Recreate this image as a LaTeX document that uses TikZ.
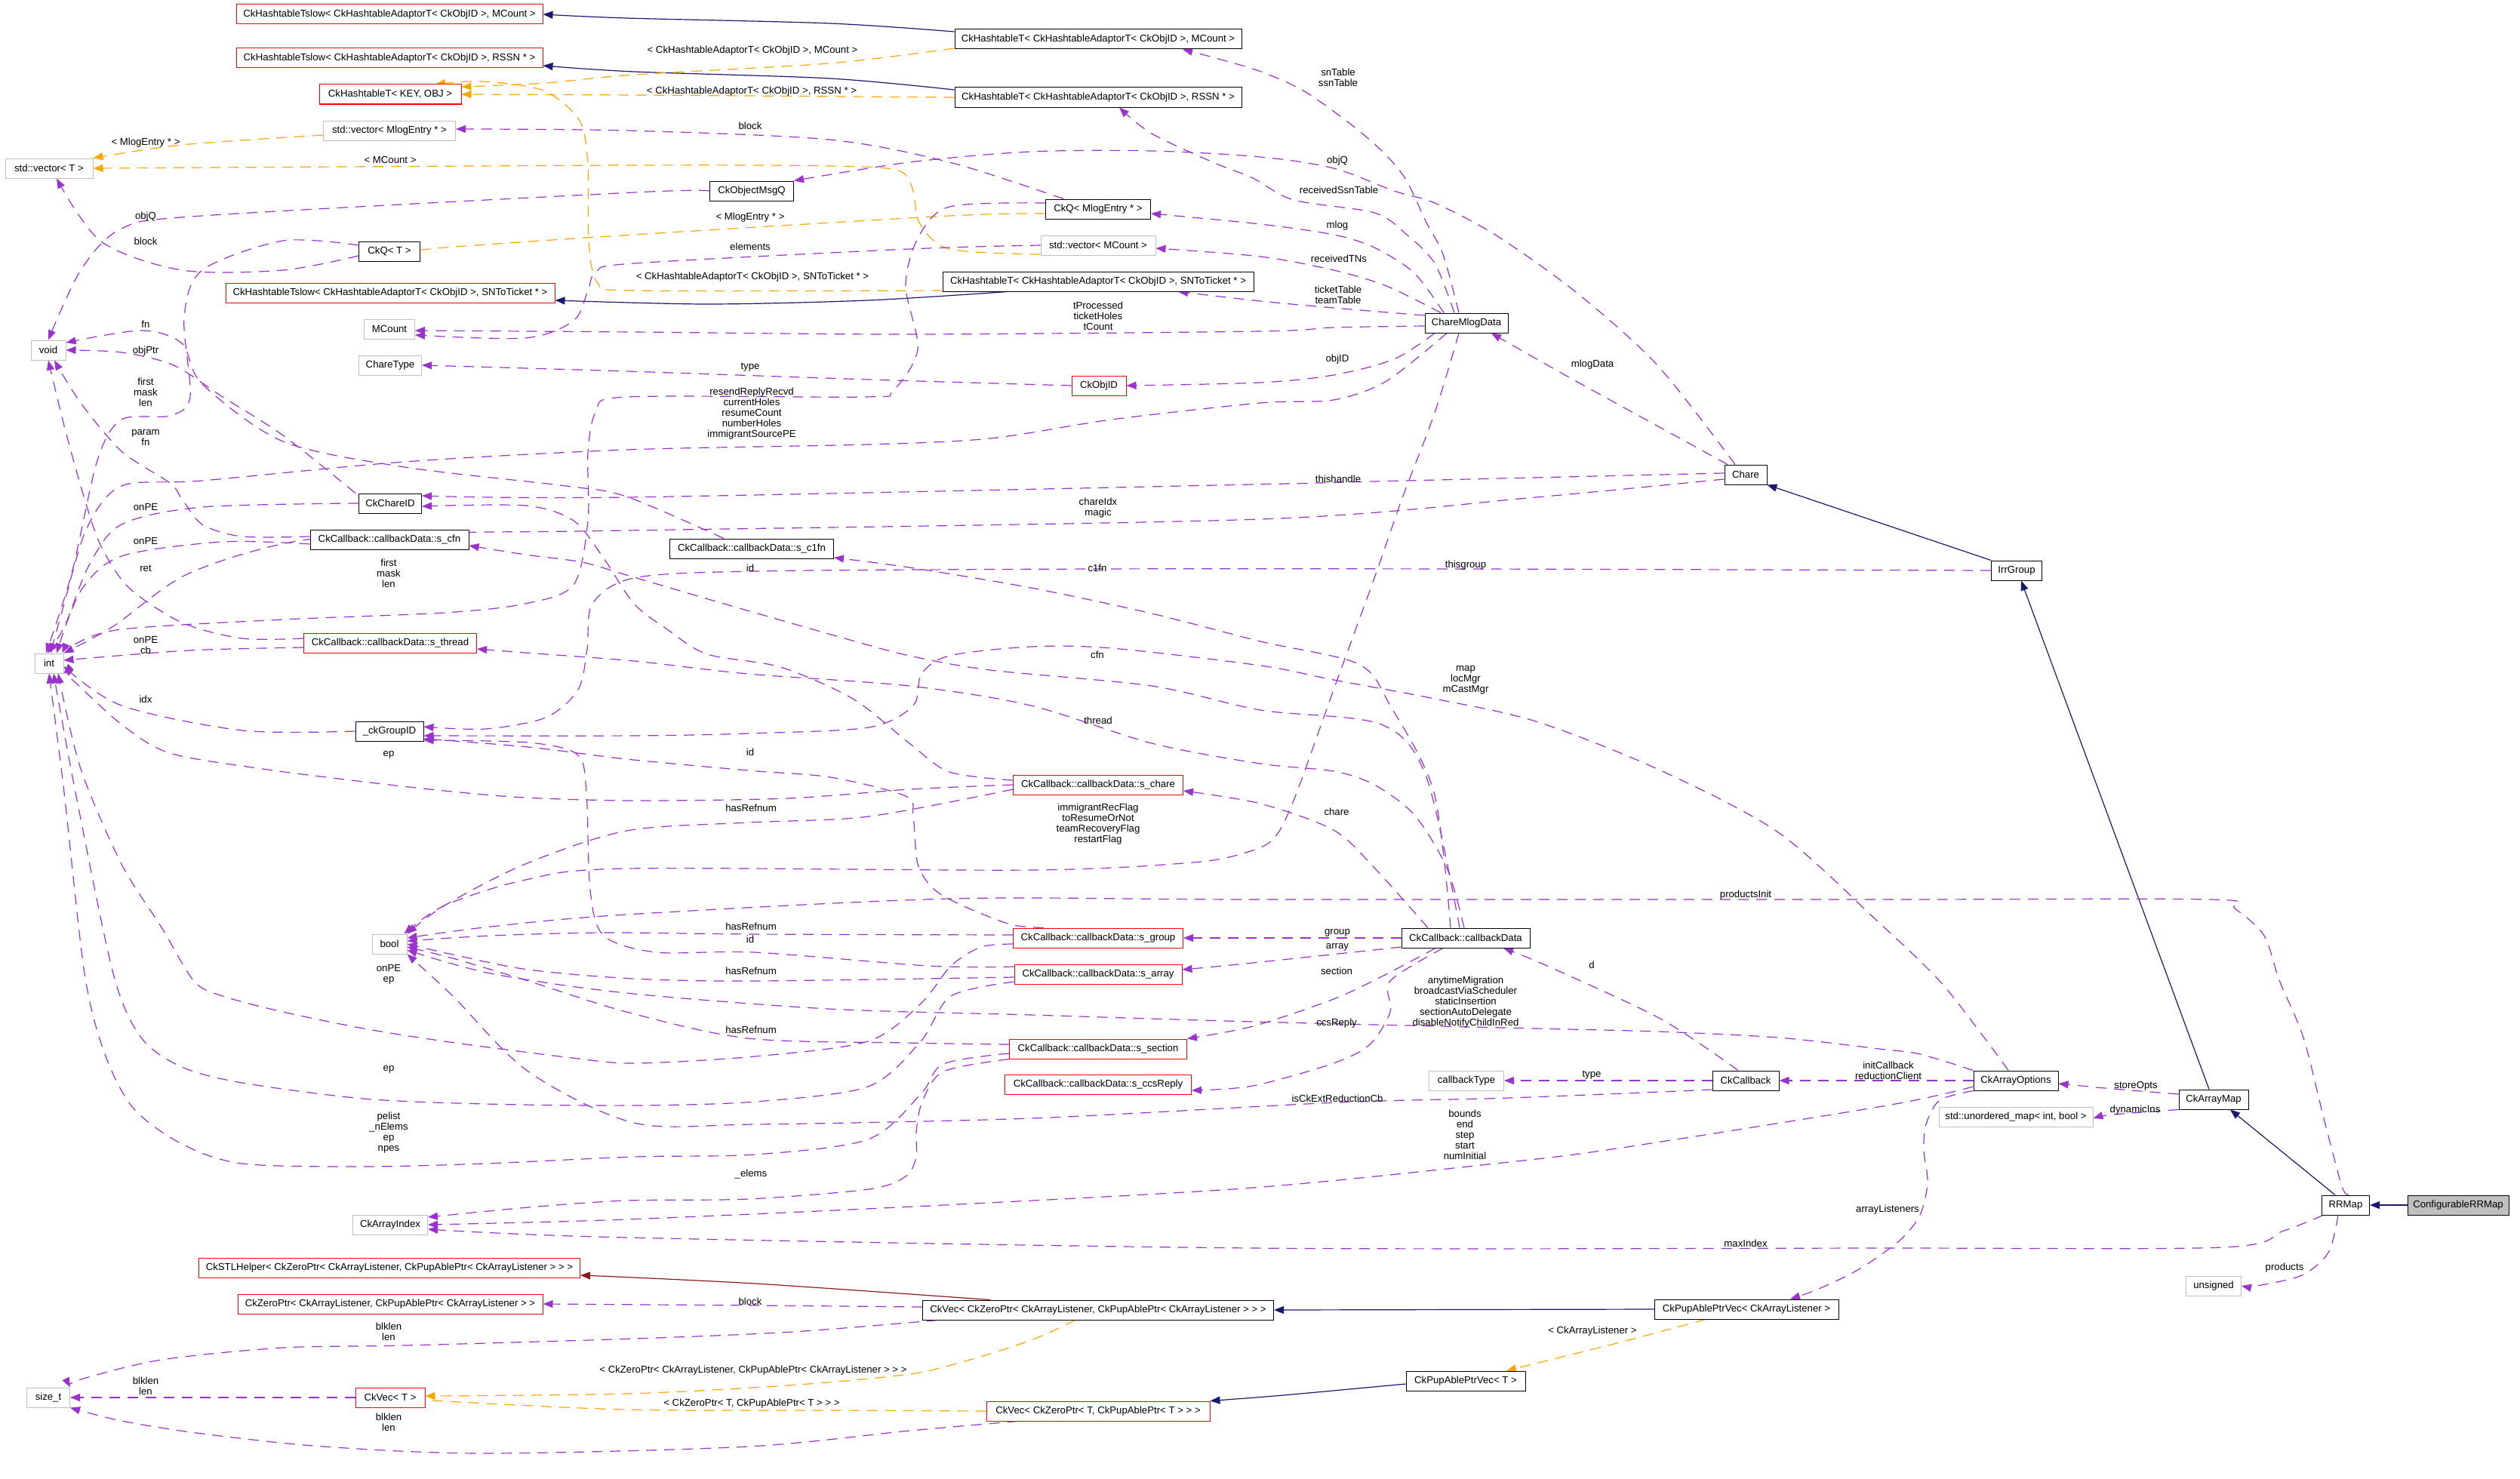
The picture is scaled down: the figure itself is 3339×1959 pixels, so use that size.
\documentclass[tikz,border=0pt]{standalone}
\usepackage{fontspec}
\setmainfont{Liberation Sans}
\usetikzlibrary{arrows.meta}
\pgfdeclarelayer{background}
\pgfsetlayers{background,main}
\definecolor{dpurple}{HTML}{9A32CD}
\definecolor{dorange}{HTML}{FFA500}
\definecolor{dnavy}{HTML}{191970}
\definecolor{dfire}{HTML}{8B1A1A}
\definecolor{boxgrey}{HTML}{BFBFBF}
\newcommand{\dgfont}{\fontsize{6.6pt}{7pt}\selectfont}
\tikzset{
  box/.style={draw=black, line width=0.5pt, minimum height=13pt, inner sep=1pt, font=\dgfont, fill=white},
  rbox/.style={box, draw=red},
  gbox/.style={box, draw=boxgrey},
  lbl/.style={font=\dgfont, align=center, inner sep=0pt},
  tip/.style={-{Triangle[length=6.5pt,width=5pt]}},
  mem/.style={draw=dpurple, line width=0.6pt, dash pattern=on 7pt off 5pt, tip},
  tmpl/.style={mem, draw=dorange},
  inh/.style={draw=dnavy, line width=0.6pt, tip},
  priv/.style={inh, draw=dfire},
}
\begin{document}
\begin{tikzpicture}[x=0.5pt, y=-0.5pt]
\useasboundingbox (0,0) rectangle (3339,1959);
% ---------------- nodes ----------------
\node[rbox, minimum width=203pt] (tsm) at (516,19) {CkHashtableTslow< CkHashtableAdaptorT< CkObjID >, MCount >};
\node[rbox, minimum width=203pt] (tsr) at (516,77) {CkHashtableTslow< CkHashtableAdaptorT< CkObjID >, RSSN * >};
\node[rbox, minimum width=94pt] (hkey) at (517,125) {CkHashtableT< KEY, OBJ >};
\node[gbox, minimum width=87.5pt] (vMlog) at (516,173) {std::vector< MlogEntry * >};
\node[gbox, minimum width=58pt] (vT) at (65,223) {std::vector< T >};
\node[box, minimum width=55.5pt] (cmq) at (996,253) {CkObjectMsgQ};
\node[box, minimum width=69.5pt] (qMlog) at (1455,277) {CkQ< MlogEntry * >};
\node[gbox, minimum width=76pt] (vMC) at (1455,325) {std::vector< MCount >};
\node[box, minimum width=40.5pt] (qT) at (516,333) {CkQ< T >};
\node[rbox, minimum width=218pt] (tss) at (517,388) {CkHashtableTslow< CkHashtableAdaptorT< CkObjID >, SNToTicket * >};
\node[box, minimum width=206pt] (ht) at (1455,373) {CkHashtableT< CkHashtableAdaptorT< CkObjID >, SNToTicket * >};
\node[box, minimum width=190pt] (hm) at (1455,52) {CkHashtableT< CkHashtableAdaptorT< CkObjID >, MCount >};
\node[box, minimum width=190pt] (hr) at (1455,129) {CkHashtableT< CkHashtableAdaptorT< CkObjID >, RSSN * >};
\node[gbox, minimum width=33.5pt] (mcount) at (516,436) {MCount};
\node[gbox, minimum width=41.5pt] (chtype) at (517,484) {ChareType};
\node[gbox, minimum width=23pt] (void) at (64,464) {void};
\node[rbox, minimum width=36pt] (objid) at (1456,511) {CkObjID};
\node[box, minimum width=55pt] (cmd) at (1943,428) {ChareMlogData};
\node[box, minimum width=28pt] (chare) at (2313,629) {Chare};
\node[box, minimum width=33.5pt] (irr) at (2672,756) {IrrGroup};
\node[box, minimum width=41.5pt] (chid) at (517,667) {CkChareID};
\node[box, minimum width=105pt] (scfn) at (516,715) {CkCallback::callbackData::s\_cfn};
\node[box, minimum width=108.5pt] (sc1fn) at (996,727) {CkCallback::callbackData::s\_c1fn};
\node[rbox, minimum width=114.5pt] (sthr) at (517,852) {CkCallback::callbackData::s\_thread};
\node[gbox, minimum width=19pt] (int) at (65,879) {int};
\node[box, minimum width=45pt] (gid) at (516,969) {\_ckGroupID};
\node[rbox, minimum width=112.5pt] (schare) at (1455,1040) {CkCallback::callbackData::s\_chare};
\node[gbox, minimum width=23pt] (bool) at (516,1251) {bool};
\node[rbox, minimum width=112.5pt] (sgroup) at (1455,1243) {CkCallback::callbackData::s\_group};
\node[box, minimum width=85pt] (cbd) at (1942,1243) {CkCallback::callbackData};
\node[rbox, minimum width=111pt] (sarray) at (1455,1291) {CkCallback::callbackData::s\_array};
\node[rbox, minimum width=117.5pt] (ssec) at (1455,1390) {CkCallback::callbackData::s\_section};
\node[rbox, minimum width=123.5pt] (sccs) at (1455,1437) {CkCallback::callbackData::s\_ccsReply};
\node[gbox, minimum width=49.5pt] (cbtype) at (1943,1432) {callbackType};
\node[box, minimum width=44pt] (cb) at (2313,1432) {CkCallback};
\node[box, minimum width=56pt] (aopt) at (2671,1432) {CkArrayOptions};
\node[box, minimum width=46pt] (amap) at (2933,1457) {CkArrayMap};
\node[gbox, minimum width=102pt] (umap) at (2671,1480) {std::unordered\_map< int, bool >};
\node[box, minimum width=31.5pt] (rrmap) at (3108,1597) {RRMap};
\node[box, minimum width=67pt, fill=boxgrey] (crr) at (3257,1597) {ConfigurableRRMap};
\node[gbox, minimum width=36.5pt] (unsigned) at (2933,1704) {unsigned};
\node[gbox, minimum width=49.5pt] (aidx) at (517,1623) {CkArrayIndex};
\node[rbox, minimum width=252.5pt] (stl) at (516,1680) {CkSTLHelper< CkZeroPtr< CkArrayListener, CkPupAblePtr< CkArrayListener > > >};
\node[rbox, minimum width=202pt] (zptr) at (517,1728) {CkZeroPtr< CkArrayListener, CkPupAblePtr< CkArrayListener > >};
\node[box, minimum width=232.5pt] (vecAL) at (1455,1736) {CkVec< CkZeroPtr< CkArrayListener, CkPupAblePtr< CkArrayListener > > >};
\node[box, minimum width=122pt] (pvAL) at (2314,1735) {CkPupAblePtrVec< CkArrayListener >};
\node[gbox, minimum width=28.5pt] (sizet) at (64,1852) {size\_t};
\node[rbox, minimum width=46pt] (vecT) at (517,1852) {CkVec< T >};
\node[box, minimum width=79pt] (pvT) at (1942,1830) {CkPupAblePtrVec< T >};
\node[rbox, minimum width=148pt] (vecZT) at (1455,1870) {CkVec< CkZeroPtr< T, CkPupAblePtr< T > > >};
% ---------------- labels ----------------
\node[lbl] (L1) at (997,67) {< CkHashtableAdaptorT< CkObjID >, MCount >};
\node[lbl] (L2) at (996,121) {< CkHashtableAdaptorT< CkObjID >, RSSN * >};
\node[lbl] (L3) at (997,367) {< CkHashtableAdaptorT< CkObjID >, SNToTicket * >};
\node[lbl] (L4) at (193,189) {< MlogEntry * >};
\node[lbl] (L5) at (517,212) {< MCount >};
\node[lbl] (L6) at (994,288) {< MlogEntry * >};
\node[lbl] (L7) at (994,167) {block};
\node[lbl] (L8) at (193,287) {objQ};
\node[lbl] (L9) at (193,320) {block};
\node[lbl] (L10) at (994,327) {elements};
\node[lbl] (L11) at (193,430) {fn};
\node[lbl] (L12) at (193,465) {objPtr};
\node[lbl] (L13) at (193,520) {first\\mask\\len};
\node[lbl] (L14) at (193,580) {param\\fn};
\node[lbl] (L15) at (994,487) {type};
\node[lbl] (L16) at (996,548) {resendReplyRecvd\\currentHoles\\resumeCount\\numberHoles\\immigrantSourcePE};
\node[lbl] (L17) at (1455,419) {tProcessed\\ticketHoles\\tCount};
\node[lbl] (L18) at (1773,103) {snTable\\ssnTable};
\node[lbl] (L19) at (1772,213) {objQ};
\node[lbl] (L20) at (1774,252) {receivedSsnTable};
\node[lbl] (L21) at (1772,299) {mlog};
\node[lbl] (L22) at (1774,343) {receivedTNs};
\node[lbl] (L23) at (1773,391) {ticketTable\\teamTable};
\node[lbl] (L24) at (1772,476) {objID};
\node[lbl] (L25) at (2110,483) {mlogData};
\node[lbl] (L26) at (1773,635) {thishandle};
\node[lbl] (L27) at (193,672) {onPE};
\node[lbl] (L28) at (1455,673) {chareIdx\\magic};
\node[lbl] (L29) at (193,717) {onPE};
\node[lbl] (L30) at (515,760) {first\\mask\\len};
\node[lbl] (L31) at (994,753) {id};
\node[lbl] (L32) at (193,753) {ret};
\node[lbl] (L33) at (1454,753) {c1fn};
\node[lbl] (L34) at (1942,749) {thisgroup};
\node[lbl] (L35) at (193,855) {onPE\\cb};
\node[lbl] (L36) at (1454,868) {cfn};
\node[lbl] (L37) at (1942,901) {map\\locMgr\\mCastMgr};
\node[lbl] (L38) at (193,927) {idx};
\node[lbl] (L39) at (1455,955) {thread};
\node[lbl] (L40) at (994,997) {id};
\node[lbl] (L41) at (515,1000) {ep};
\node[lbl] (L42) at (995,1071) {hasRefnum};
\node[lbl] (L43) at (1455,1092) {immigrantRecFlag\\toResumeOrNot\\teamRecoveryFlag\\restartFlag};
\node[lbl] (L44) at (1771,1076) {chare};
\node[lbl] (L45) at (2313,1186) {productsInit};
\node[lbl] (L46) at (995,1228) {hasRefnum};
\node[lbl] (L47) at (994,1245) {id};
\node[lbl] (L48) at (1772,1236) {group};
\node[lbl] (L49) at (1772,1255) {array};
\node[lbl] (L50) at (515,1291) {onPE\\ep};
\node[lbl] (L51) at (995,1287) {hasRefnum};
\node[lbl] (L52) at (1771,1287) {section};
\node[lbl] (L53) at (2109,1279) {d};
\node[lbl] (L54) at (1942,1328) {anytimeMigration\\broadcastViaScheduler\\staticInsertion\\sectionAutoDelegate\\disableNotifyChildInRed};
\node[lbl] (L55) at (995,1365) {hasRefnum};
\node[lbl] (L56) at (1771,1356) {ccsReply};
\node[lbl] (L57) at (515,1417) {ep};
\node[lbl] (L58) at (2109,1425) {type};
\node[lbl] (L59) at (2502,1419) {initCallback\\reductionClient};
\node[lbl] (L60) at (1772,1456) {isCkExtReductionCb};
\node[lbl] (L61) at (2830,1439) {storeOpts};
\node[lbl] (L62) at (2829,1471) {dynamicIns};
\node[lbl] (L63) at (515,1501) {pelist\\\_nElems\\ep\\npes};
\node[lbl] (L64) at (1941,1504) {bounds\\end\\step\\start\\numInitial};
\node[lbl] (L65) at (995,1556) {\_elems};
\node[lbl] (L66) at (2501,1603) {arrayListeners};
\node[lbl] (L67) at (2313,1648) {maxIndex};
\node[lbl] (L68) at (3027,1680) {products};
\node[lbl] (L69) at (994,1725) {block};
\node[lbl] (L70) at (515,1765) {blklen\\len};
\node[lbl] (L71) at (998,1816) {< CkZeroPtr< CkArrayListener, CkPupAblePtr< CkArrayListener > > >};
\node[lbl] (L72) at (2110,1764) {< CkArrayListener >};
\node[lbl] (L73) at (193,1837) {blklen\\len};
\node[lbl] (L74) at (996,1860) {< CkZeroPtr< T, CkPupAblePtr< T > > >};
\node[lbl] (L75) at (515,1885) {blklen\\len};
% ---------------- edges ----------------
\begin{pgfonlayer}{background}
\fill[white] (0,0) rectangle (3339,1959);
% inheritance
\draw[inh] plot[smooth] coordinates {([yshift=5pt]hm.west) (1100,31) (830,24) (tsm.east)};
\draw[inh] plot[smooth] coordinates {([yshift=5pt]hr.west) (1100,104) (840,95) ([yshift=-5pt]tsr.east)};
\draw[inh] plot[smooth] coordinates {([xshift=-60pt]ht.south) (1150,398) (937,403) ([yshift=-5pt]tss.east)};
\draw[inh] (irr.north west) -- (chare.south east);
\draw[inh] ([xshift=-3pt]amap.north) -- ([xshift=3pt]irr.south);
\draw[inh] ([xshift=-7pt]rrmap.north) -- ([xshift=11pt]amap.south);
\draw[inh] (crr.west) -- (rrmap.east);
\draw[inh] (pvAL.west) -- (vecAL.east);
\draw[inh] plot[smooth] coordinates {([yshift=-2pt]pvT.west) (1700,1849) (vecZT.north east)};
\draw[priv] plot[smooth] coordinates {([xshift=-71.5pt]vecAL.north) (1017,1702) (840,1693) ([yshift=-5pt]stl.east)};
% templates
\draw[tmpl] plot[smooth] coordinates {([yshift=-6pt]hm.west) (1098,84) (840,99) (723,110) ([yshift=5pt]hkey.east)};
\draw[tmpl] plot[smooth] coordinates {(hr.west) (840,126) (hkey.east)};
\draw[tmpl] plot[smooth] coordinates {([yshift=-6pt]ht.west) (840,385) (792,375) (780,320) (779,220) (768,160) (720,120) (640,108) ([xshift=30pt]hkey.north)};
\draw[tmpl] plot[smooth] coordinates {([yshift=-3pt]vMlog.west) (241,192) (vT.north east)};
\draw[tmpl] plot[smooth] coordinates {([yshift=-6pt]vMC.west) (1258,330) (1218,295) (1210,253) (1190,226) (1100,220) (830,219) (vT.east)};
\draw[tmpl] plot[smooth] coordinates {([yshift=-3pt]qMlog.west) (1258,286) (840,311) (589,328) (qT.east)};
\draw[tmpl] plot[smooth] coordinates {([xshift=-15pt]vecAL.south) (1366,1776) (1285,1802) (1205,1821) (1044,1836) (830,1847) ([yshift=1pt]vecT.east)};
\draw[tmpl] plot[smooth] coordinates {(vecZT.west) (1100,1869) (830,1868) (589,1857) ([yshift=-1pt]vecT.east)};
\draw[tmpl] plot[smooth] coordinates {([xshift=-27pt]pvAL.south) (2150,1778) ([xshift=27pt]pvT.north)};
% members from ChareMlogData
\draw[mem] plot[smooth] coordinates {([xshift=-5pt]cmd.north) (1912,337) (1890,295) (1864,240) (1837,206) (1794,168) (1730,122) (1671,95) (1607,76) ([xshift=56pt]hm.south)};
\draw[mem] plot[smooth] coordinates {([xshift=-8pt]cmd.north) (1901,349) (1864,311) (1821,282) (1714,265) (1660,236) (1607,215) (1526,177) ([xshift=14pt]hr.south)};
\draw[mem] plot[smooth] coordinates {([xshift=-15pt]cmd.north) (1874,362) (1821,328) (1767,311) (1670,297) ([yshift=-3pt]qMlog.east)};
\draw[mem] plot[smooth] coordinates {([xshift=-17pt]cmd.north) (1837,379) (1767,358) (1670,340) ([yshift=-2pt]vMC.east)};
\draw[mem] plot[smooth] coordinates {([yshift=5pt]cmd.west) (1767,408) (1670,399) ([xshift=53pt]ht.south)};
\draw[mem] plot[smooth] coordinates {([yshift=-2pt]cmd.west) (1767,434) (1670,439) (1205,443) (840,440) ([yshift=-1pt]mcount.east)};
\draw[mem] plot[smooth] coordinates {([xshift=-21pt]cmd.south) (1847,476) (1767,497) (1670,507) (objid.east)};
\draw[mem] plot[smooth] coordinates {([xshift=-13pt]cmd.south) (1837,505) (1767,530) (1670,534) (1473,556) (1312,581) (1151,589) (830,596) (536,612) (268,637) (161,644) (115,700) (85,800) ([xshift=1pt]int.north)};
\draw[mem] plot[smooth] coordinates {([xshift=-5pt]cmd.south) (1901,547) (1858,660) (1821,766) (1767,914) (1714,1061) (1687,1112) (1650,1130) (1580,1143) (1366,1153) (830,1151) (696,1166) (589,1200) ([xshift=-2pt]bool.north east)};
% members from Chare
\draw[mem] plot[smooth] coordinates {([xshift=-7pt]chare.north) (2196,484) (2088,387) (1981,311) (1901,269) (1847,253) (1767,223) (1670,208) (1526,200) (1366,201) (1205,215) (cmq.north east)};
\draw[mem] plot[smooth] coordinates {([xshift=-12pt]chare.north) (2088,505) ([xshift=16.5pt]cmd.south)};
\draw[mem] plot[smooth] coordinates {([yshift=1pt]chare.west) (1821,638) (1660,642) (830,659) ([yshift=5pt]chid.east)};
\draw[mem] plot[smooth] coordinates {([yshift=-3pt]chare.west) (2024,660) (1670,688) (830,703) (600,706) (400,716) (250,760) (150,830) (int.north east)};
% IrrGroup
\draw[mem] plot[smooth] coordinates {(irr.west) (1942,754) (1454,754) (1000,757) (840,766) (785,800) (778,860) (766,914) (723,951) (643,966) ([yshift=3pt]gid.east)};
% CkQ / vectors / misc upper-left
\draw[mem] plot[smooth] coordinates {([yshift=4pt]qMlog.west) (1258,274) (1216,316) (1200,379) (1216,463) (1183,518) (1146,526) (830,526) (790,545) (779,600) (779,690) (760,775) (696,800) (589,812) (375,821) (161,834) (96,855) ([xshift=-1pt]int.north east)};
\draw[mem] plot[smooth] coordinates {([xshift=-2pt]chid.north west) (375,577) (295,526) (230,484) (161,467) (void.east)};
\draw[mem] plot[smooth] coordinates {(chid.west) (268,672) (161,695) (118,749) (86,829) ([xshift=-1pt]int.north)};
\draw[mem] plot[smooth] coordinates {([xshift=-18.5pt]sc1fn.north) (830,658) (750,644) (536,619) (375,585) (268,509) (241,455) (187,438) ([yshift=5pt]void.east)};
\draw[mem] plot[smooth] coordinates {([yshift=2pt]scfn.west) (321,711) (268,695) (241,661) (225,640) (161,598) (107,534) ([xshift=4pt]void.south)};
\draw[mem] plot[smooth] coordinates {([yshift=-3pt]scfn.west) (295,718) (161,737) (107,783) ([xshift=5pt]int.north)};
\draw[mem] plot[smooth] coordinates {([yshift=3pt]sthr.west) (321,846) (241,825) (171,779) (134,724) (112,661) (86,568) (void.south)};
\draw[mem] plot[smooth] coordinates {([yshift=-3pt]sthr.west) (250,862) ([yshift=2pt]int.east)};
\draw[mem] plot[smooth] coordinates {(gid.west) (321,968) (161,935) ([yshift=-2pt]int.east)};
\draw[mem] plot[smooth] coordinates {([yshift=-3pt]qT.west) (375,358) (241,358) (134,320) ([xshift=5pt]vT.south)};
\draw[mem] plot[smooth] coordinates {([yshift=4pt]qT.west) (375,319) (268,358) (244,421) (252,526) (225,551) (161,556) (129,610) (95,760) ([xshift=-2pt]int.north)};
\draw[mem] plot[smooth] coordinates {(cmq.west) (840,255) (268,286) (161,303) (107,358) (void.north)};
\draw[mem] plot[smooth] coordinates {([xshift=-23pt]qMlog.north) (1258,215) (1098,185) (830,173) ([yshift=1pt]vMlog.east)};
\draw[mem] plot[smooth] coordinates {(vMC.west) (1205,330) (840,349) (790,360) (779,385) (760,425) (696,448) ([yshift=-4pt]mcount.east)};
\draw[mem] plot[smooth] coordinates {(objid.west) (1151,503) (830,492) (chtype.east)};
% callbackData members
\draw[mem] plot[smooth] coordinates {([xshift=-10pt]cbd.north) (1900,1050) (1842,935) (1800,880) (1670,850) (1526,813) (1366,779) (1205,752) ([yshift=-6pt]sc1fn.east)};
\draw[mem] plot[smooth] coordinates {([xshift=-4pt]cbd.north) (1890,1030) (1830,960) (1670,941) (1526,909) (1312,888) (1205,869) (1119,846) (959,800) (830,762) (771,745) (696,735) ([yshift=-4pt]scfn.east)};
\draw[mem] plot[smooth] coordinates {([xshift=-1pt]cbd.north) (1917,1150) (1874,1080) (1821,1040) (1767,1022) (1670,1012) (1526,985) (1366,935) (1205,909) (991,893) (840,876) (696,865) ([yshift=-4pt]sthr.east)};
\draw[mem] plot[smooth] coordinates {([xshift=-25pt]cbd.north) (1821,1150) (1767,1100) (1670,1065) ([yshift=-4pt]schare.east)};
\draw[mem] (cbd.west) -- (sgroup.east);
\draw[mem] plot[smooth] coordinates {([yshift=-6pt]cbd.west) (1660,1276) ([yshift=3pt]sarray.east)};
\draw[mem] plot[smooth] coordinates {([xshift=-20pt]cbd.south) (1831,1294) (1767,1324) (1660,1360) (ssec.north east)};
\draw[mem] plot[smooth] coordinates {([xshift=-15pt]cbd.south) (1842,1300) (1842,1341) (1815,1384) (1767,1409) (1660,1439) ([yshift=-4pt]sccs.east)};
% CkCallback members
\draw[mem] plot[smooth] coordinates {([xshift=-5pt]cb.north) (2200,1350) (2050,1280) ([xshift=25pt]cbd.south)};
\draw[mem] (cb.west) -- (cbtype.east);
\draw[mem] plot[smooth] coordinates {([yshift=-6pt]cb.west) (2000,1455) (1772,1461) (1366,1482) (1000,1490) (840,1488) (700,1420) (600,1320) (bool.south east)};
% CkArrayOptions members
\draw[mem] plot[smooth] coordinates {(aopt.north west) (2544,1397) (2490,1390) (2356,1375) (2196,1367) (2035,1363) (1660,1354) (1366,1345) (1098,1337) (830,1316) (650,1290) ([yshift=-4pt]bool.east)};
\draw[mem] plot[smooth] coordinates {([xshift=-5pt]aopt.north) (2629,1375) (2570,1300) (2490,1223) (2356,1103) (2196,1019) (2035,956) (1901,926) (1767,901) (1670,882) (1473,859) (1366,857) (1258,869) (1221,893) (1210,935) (1151,964) (991,972) (840,975) ([yshift=-3pt]gid.east)};
\draw[mem] (aopt.west) -- (cb.east);
\draw[mem] plot[smooth] coordinates {([yshift=-4pt]aopt.west) (2500,1465) (2142,1522) (1981,1542) (1660,1574) (1250,1597) (830,1616) (aidx.east)};
\draw[mem] plot[smooth] coordinates {(aopt.south west) (2570,1458) (2552,1490) (2549,1525) (2554,1567) (2544,1610) (2517,1644) (2463,1682) (2410,1708) ([xshift=29pt]pvAL.north)};
% CkArrayMap / RRMap members
\draw[mem] plot[smooth] coordinates {([yshift=3.5pt]amap.west) (2800,1443) ([yshift=-2pt]aopt.east)};
\draw[mem] plot[smooth] coordinates {(amap.south west) (2800,1477) ([yshift=-1pt]umap.east)};
\draw[mem] plot[smooth] coordinates {([xshift=-15pt]rrmap.south) (3026,1631) (2945,1653) (2490,1654) (1660,1654) (830,1640) ([yshift=-3pt]aidx.east)};
\draw[mem] plot[smooth] coordinates {([xshift=-5pt]rrmap.south) (3085,1660) (3050,1690) (2990,1704) (unsigned.east)};
\draw[mem] plot[smooth] coordinates {([xshift=2pt]rrmap.north) (3103,1572) (3079,1482) (3052,1375) (3020,1299) (3000,1240) (2961,1204) (2930,1192) (2490,1192) (1660,1192) (1258,1191) (830,1212) (650,1228) ([yshift=4pt]bool.east)};
% CkVec members
\draw[mem] plot[smooth] coordinates {([yshift=2pt]vecAL.west) (1000,1730) (zptr.east)};
\draw[mem] plot[smooth] coordinates {([xshift=10pt]vecAL.south west) (1050,1765) (840,1774) (536,1783) (375,1786) (214,1802) (107,1828) (sizet.north east)};
\draw[mem] (vecT.west) -- (sizet.east);
\draw[mem] plot[smooth] coordinates {([xshift=21pt]vecZT.south west) (1205,1896) (991,1917) (643,1926) (429,1917) (268,1900) (161,1883) (sizet.south east)};
% s_chare members
\draw[mem] plot[smooth] coordinates {([yshift=3pt]schare.west) (1258,1023) (1205,985) (1130,926) (1034,884) (937,867) (884,834) (840,800) (800,740) (760,690) (696,670) ([yshift=-2pt]chid.east)};
\draw[mem] plot[smooth] coordinates {(schare.west) (1205,1046) (1044,1058) (840,1061) (696,1057) (589,1048) (482,1036) (348,1019) (225,998) (161,960) (96,901) (int.south east)};
\draw[mem] plot[smooth] coordinates {([yshift=-3pt]schare.west) (1151,1082) (991,1090) (830,1101) (696,1145) (589,1200) (bool.north east)};
% s_group members
\draw[mem] plot[smooth] coordinates {([xshift=-36pt]sgroup.north) (1339,1225) (1275,1200) (1237,1178) (1216,1145) (1210,1082) (1200,1055) (1100,1030) (991,1021) (830,1006) (700,990) ([yshift=-5pt]gid.east)};
\draw[mem] plot[smooth] coordinates {([yshift=2pt]sgroup.west) (1000,1238) (800,1236) (650,1240) ([yshift=2pt]bool.east)};
\draw[mem] plot[smooth] coordinates {([yshift=-4pt]sgroup.west) (1300,1255) (1260,1280) (1220,1330) (1150,1380) (1000,1400) (840,1409) (750,1401) (589,1380) (482,1363) (375,1341) (295,1320) (257,1300) (214,1229) (161,1145) (107,1019) ([xshift=6pt]int.south)};
% s_array members
\draw[mem] plot[smooth] coordinates {([yshift=5pt]sarray.west) (1230,1280) (1000,1262) (870,1262) (800,1240) (782,1180) (777,1050) (765,1000) (700,984) ([yshift=-6pt]gid.east)};
\draw[mem] plot[smooth] coordinates {([yshift=-2pt]sarray.west) (1000,1300) (840,1297) (700,1285) (600,1265) (bool.east)};
\draw[mem] plot[smooth] coordinates {([yshift=-5pt]sarray.west) (1260,1320) (1220,1380) (1150,1440) (1000,1460) (840,1465) (643,1463) (482,1456) (321,1435) (241,1414) (187,1375) (150,1290) (100,1050) ([xshift=3pt]int.south)};
% s_section members
\draw[mem] plot[smooth] coordinates {([yshift=-3pt]ssec.west) (1250,1410) (1220,1450) (1150,1510) (1000,1530) (840,1533) (643,1542) (482,1546) (321,1542) (241,1516) (177,1469) (139,1397) (112,1290) (85,1050) (int.south)};
\draw[mem] plot[smooth] coordinates {([yshift=3pt]ssec.west) (1200,1382) (991,1376) (830,1341) (700,1300) (600,1270) ([yshift=-2pt]bool.east)};
\draw[mem] plot[smooth] coordinates {(ssec.south west) (1250,1420) (1222,1460) (1214,1500) (1214,1533) (1200,1559) (1151,1576) (991,1589) (830,1591) (700,1600) ([yshift=5pt]aidx.east)};
\end{pgfonlayer}
\end{tikzpicture}
\end{document}
